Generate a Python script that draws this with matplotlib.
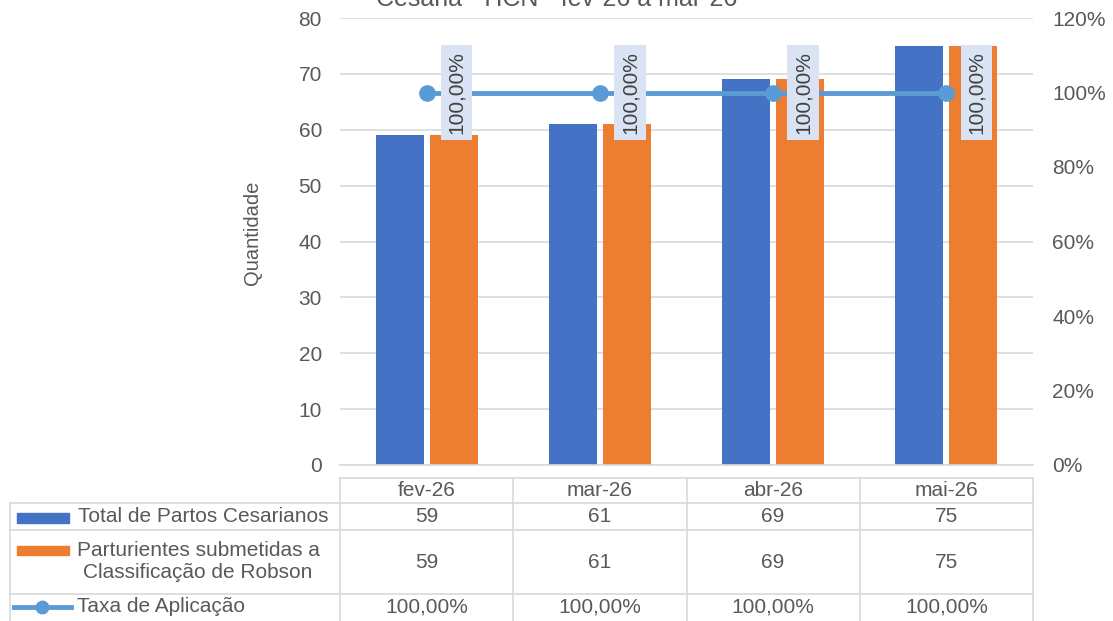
import matplotlib.pyplot as plt
import matplotlib.transforms as mtransforms
import numpy as np

# dados do grafico
meses = ['fev-26', 'mar-26', 'abr-26', 'mai-26']
total_cesarianos = [59, 61, 69, 75]
robson = [59, 61, 69, 75]
taxa = [100.0, 100.0, 100.0, 100.0]
series_nomes = ['Total de Partos Cesarianos',
                'Parturientes submetidas a\nClassificação de Robson',
                'Taxa de Aplicação']

azul = '#4472C4'
laranja = '#ED7D31'
linha_cor = '#5B9BD5'
cinza_txt = '#595959'
cinza_grid = '#D9D9D9'

W, H = 1113, 621
fig = plt.figure(figsize=(W / 100, H / 100), dpi=100)
plt.rcParams['font.family'] = ['Liberation Sans', 'DejaVu Sans']
fs = 15


def fx(px):
    return px / W


def fy(py):
    return 1 - py / H


ax = fig.add_axes([fx(340), fy(465), fx(1033) - fx(340), fy(18) - fy(465)])
x = np.arange(len(meses))
bw = 0.277
ax.bar(x - 0.156, total_cesarianos, bw, color=azul, zorder=2)
ax.bar(x + 0.156, robson, bw, color=laranja, zorder=2)
ax.set_xlim(-0.5, 3.5)
ax.set_ylim(0, 80)
ax.set_yticks(range(0, 81, 10))
ax.grid(axis='y', color=cinza_grid, lw=1.2, zorder=0)
for s in ['top', 'right', 'left']:
    ax.spines[s].set_visible(False)
ax.spines['bottom'].set_color(cinza_grid)
ax.spines['bottom'].set_linewidth(1.2)
ax.set_xticks([])
ax.tick_params(axis='y', length=0, pad=13, labelsize=fs, labelcolor=cinza_txt)
ax.set_ylabel('Quantidade', fontsize=14.5, color=cinza_txt)
ax.yaxis.set_label_coords(-0.113, 0.52)

ax2 = ax.twinx()
ax2.plot(x, taxa, color=linha_cor, lw=3.5, marker='o', markersize=11, zorder=3)
ax2.set_ylim(0, 120)
ax2.set_yticks(range(0, 121, 20))
ax2.set_yticklabels([f'{v}%' for v in range(0, 121, 20)])
ax2.tick_params(axis='y', length=0, pad=14, labelsize=fs, labelcolor=cinza_txt)
for s in ax2.spines.values():
    s.set_visible(False)
for xi, v in zip(x, taxa):
    ax2.annotate(f'{v:.2f}%'.replace('.', ','), (xi, v), xytext=(30, 0),
                 textcoords='offset pixels', rotation=90, ha='center', va='center',
                 fontsize=fs, color='#404040',
                 bbox=dict(boxstyle='square,pad=0.3', fc='#DAE3F3', ec='none'))

fig.text(0.5, fy(6), 'Cesária - HCN - fev-26 a mar-26', ha='center',
         va='baseline', fontsize=18, color=cinza_txt)

# tabela de dados
tr = mtransforms.blended_transform_factory(ax.transData, fig.transFigure)
lkw = dict(color=cinza_grid, lw=1.2, clip_on=False)
fig.add_artist(plt.Line2D([-0.5, 3.5], [fy(478), fy(478)], transform=tr, **lkw))
for yy in [503, 530, 594]:
    fig.add_artist(plt.Line2D([fx(10), fx(1033)], [fy(yy), fy(yy)], **lkw))
fig.add_artist(plt.Line2D([fx(10), fx(10)], [fy(503), fy(621)], **lkw))
for b in np.arange(-0.5, 4.0, 1.0):
    fig.add_artist(plt.Line2D([b, b], [fy(478), fy(621)], transform=tr, **lkw))

rows_y = [517, 562, 607]
tkw = dict(ha='center', va='center', fontsize=fs, color=cinza_txt)
for i, m in enumerate(meses):
    fig.text(x[i], fy(490), m, transform=tr, **tkw)
    fig.text(x[i], fy(rows_y[0]), str(total_cesarianos[i]), transform=tr, **tkw)
    fig.text(x[i], fy(rows_y[1]), str(robson[i]), transform=tr, **tkw)
    fig.text(x[i], fy(rows_y[2]), f'{taxa[i]:.2f}%'.replace('.', ','), transform=tr, **tkw)

fig.text(fx(203), fy(rows_y[0]), series_nomes[0], multialignment='center', **tkw)
fig.text(fx(198), fy(rows_y[1]), series_nomes[1], multialignment='center',
         linespacing=1.2, **tkw)
fig.text(fx(161), fy(rows_y[2]), series_nomes[2], **tkw)

fig.add_artist(plt.Rectangle((fx(17), fy(523)), fx(52), fy(513) - fy(523), color=azul))
fig.add_artist(plt.Rectangle((fx(17), fy(555)), fx(52), fy(546) - fy(555), color=laranja))
fig.add_artist(plt.Line2D([fx(14), fx(71)], [fy(607), fy(607)], color=linha_cor, lw=3.5))
fig.add_artist(plt.Line2D([fx(42)], [fy(607)], color=linha_cor, marker='o', markersize=9))

fig.savefig('out.png', dpi=100)
